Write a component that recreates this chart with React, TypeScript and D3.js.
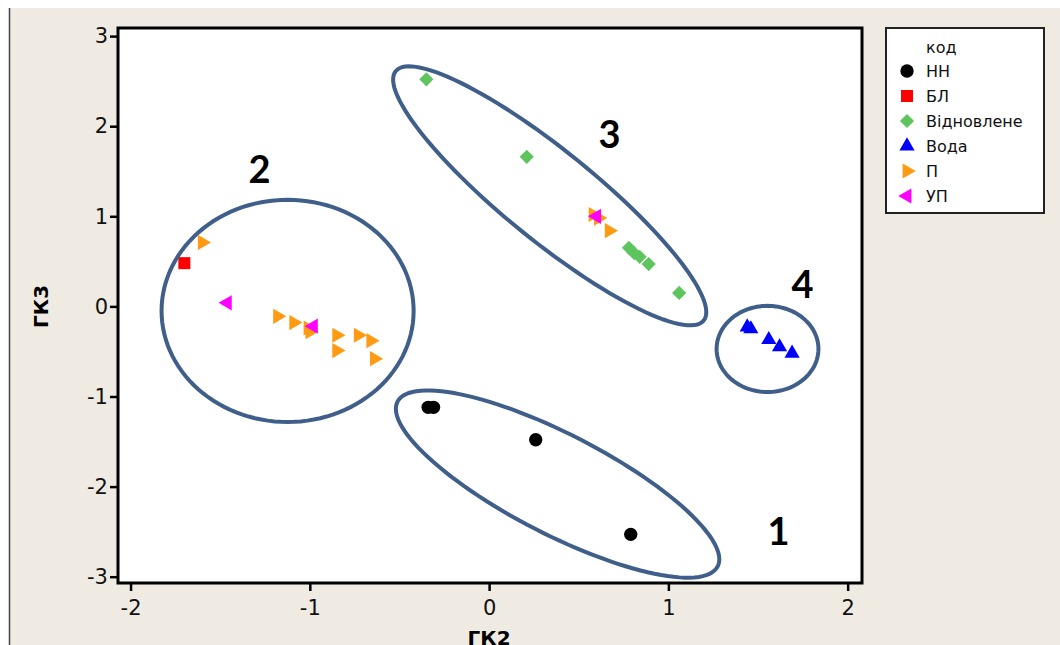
import React, { Component } from "react";
import * as d3 from "d3";

// scores on ГК2 (x) and ГК3 (y), one pair of arrays per group
const nnX = [-0.34, -0.31, 0.26, 0.79];
const nnY = [-1.12, -1.12, -1.48, -2.53];
const blX = [-1.7];
const blY = [0.48];
const vidX = [-0.35, 0.21, 0.78, 0.81, 0.84, 0.89, 1.06];
const vidY = [2.52, 1.66, 0.65, 0.59, 0.55, 0.47, 0.15];
const vodaX = [1.44, 1.46, 1.56, 1.62, 1.69];
const vodaY = [-0.23, -0.25, -0.37, -0.45, -0.52];
const pX = [-1.6, -1.18, -1.09, -1.01, -1.0, -0.85, -0.85, -0.73, -0.66, -0.64, 0.58, 0.61, 0.67];
const pY = [0.71, -0.11, -0.18, -0.24, -0.28, -0.32, -0.49, -0.32, -0.38, -0.58, 1.02, 0.98, 0.84];
const upX = [-1.46, -0.98, 0.6];
const upY = [0.04, -0.22, 1.0];

const groupNames = ["НН", "БЛ", "Відновлене", "Вода", "П", "УП"];
const groupX = [nnX, blX, vidX, vodaX, pX, upX];
const groupY = [nnY, blY, vidY, vodaY, pY, upY];

const xTicks = [-2, -1, 0, 1, 2];
const yTicks = [-3, -2, -1, 0, 1, 2, 3];

// cluster outlines: centre and two semi-axis vectors, in data units
const clusterNames = ["1", "2", "3", "4"];
const clusterC = [[0.382, -1.972], [-1.124, -0.05], [0.338, 1.227], [1.553, -0.472]];
const clusterU = [[0.893, -0.914], [0.703, 0], [0.859, -1.384], [0.284, 0]];
const clusterV = [[-0.128, -0.494], [0, 1.233], [-0.158, -0.389], [0, 0.478]];
const clusterLabelX = [1.615, -1.28, 0.672, 1.748];
const clusterLabelY = [-2.48, 1.54, 1.93, 0.26];

const colors = ["#000000", "#ff0000", "#5ec55e", "#0000ff", "#ff9a12", "#ff00ff"];

function symbolPath(i) {
    if (i === 0) return { d: d3.symbol(d3.symbolCircle, 140)(), rot: 0 };
    if (i === 1) return { d: d3.symbol(d3.symbolSquare, 144)(), rot: 0 };
    if (i === 2) return { d: d3.symbol(d3.symbolSquare, 100)(), rot: 45 };
    if (i === 3) return { d: d3.symbol(d3.symbolTriangle, 100)(), rot: 0 };
    if (i === 4) return { d: d3.symbol(d3.symbolTriangle, 100)(), rot: 90 };
    return { d: d3.symbol(d3.symbolTriangle, 100)(), rot: -90 };
}

class App extends Component {
    constructor(props) {
        super(props);
        this.svgRef = React.createRef();
    }

    componentDidMount() {
        this.draw();
    }

    draw() {
        const W = 1060, H = 645;
        const plot = { left: 118, right: 862, top: 28, bottom: 583 };

        const svg = d3.select(this.svgRef.current);
        svg.selectAll("*").remove();

        // page background
        svg.append("rect").attr("width", W).attr("height", H).attr("fill", "#ffffff");
        svg.append("rect").attr("x", 10).attr("y", 8).attr("width", W - 10).attr("height", H - 8)
            .attr("fill", "#efebe2");
        svg.append("line").attr("x1", 9.5).attr("x2", 9.5).attr("y1", 8).attr("y2", H)
            .attr("stroke", "#444").attr("stroke-width", 1.5);

        const x = d3.scaleLinear().domain([-2.07, 2.08]).range([plot.left, plot.right]);
        const y = d3.scaleLinear().domain([-3.07, 3.09]).range([plot.bottom, plot.top]);

        svg.append("rect")
            .attr("x", plot.left).attr("y", plot.top)
            .attr("width", plot.right - plot.left).attr("height", plot.bottom - plot.top)
            .attr("fill", "#ffffff");

        // Axes
        const xAxis = svg.append("g").attr("transform", `translate(0, ${plot.bottom})`)
            .call(d3.axisBottom(x).tickValues(xTicks).tickSize(8).tickSizeOuter(0).tickPadding(9)
                .tickFormat(d3.format("d")));
        const yAxis = svg.append("g").attr("transform", `translate(${plot.left}, 0)`)
            .call(d3.axisLeft(y).tickValues(yTicks).tickSize(8).tickSizeOuter(0).tickPadding(2)
                .tickFormat(d3.format("d")));
        [xAxis, yAxis].forEach(g => {
            g.select(".domain").remove();
            g.selectAll(".tick line").attr("stroke", "#000").attr("stroke-width", 2.5);
            g.selectAll(".tick text").attr("fill", "#111")
                .style("font-family", "'DejaVu Sans', Verdana, sans-serif").style("font-size", "21px");
        });
        xAxis.selectAll(".tick text").text(d => d < 0 ? "-" + Math.abs(d) : d);
        yAxis.selectAll(".tick text").text(d => d < 0 ? "-" + Math.abs(d) : d);

        // Points
        groupNames.forEach((name, i) => {
            const sym = symbolPath(i);
            svg.append("g").selectAll("path")
                .data(groupX[i].map((v, j) => [v, groupY[i][j]]))
                .join("path")
                .attr("d", sym.d)
                .attr("transform", d => `translate(${x(d[0])}, ${y(d[1])}) rotate(${sym.rot})`)
                .attr("fill", colors[i]);
        });

        // Cluster ellipses
        const line = d3.line().x(d => x(d[0])).y(d => y(d[1])).curve(d3.curveLinearClosed);
        clusterNames.forEach((c, k) => {
            const pts = d3.range(0, 120).map(n => {
                const t = (n / 120) * 2 * Math.PI;
                return [
                    clusterC[k][0] + clusterU[k][0] * Math.cos(t) + clusterV[k][0] * Math.sin(t),
                    clusterC[k][1] + clusterU[k][1] * Math.cos(t) + clusterV[k][1] * Math.sin(t)
                ];
            });
            svg.append("path").attr("d", line(pts))
                .attr("fill", "none").attr("stroke", "#3f5f8a").attr("stroke-width", 4);
            svg.append("text")
                .attr("x", x(clusterLabelX[k])).attr("y", y(clusterLabelY[k]))
                .attr("text-anchor", "middle").attr("dominant-baseline", "central")
                .style("font-family", "Lato, 'Open Sans', sans-serif")
                .style("font-size", "38px").style("font-weight", "bold")
                .text(c);
        });

        // Frame
        svg.append("rect")
            .attr("x", plot.left).attr("y", plot.top)
            .attr("width", plot.right - plot.left).attr("height", plot.bottom - plot.top)
            .attr("fill", "none").attr("stroke", "#000").attr("stroke-width", 3);

        // Axis titles
        svg.append("text")
            .attr("x", x(0)).attr("y", 645)
            .attr("text-anchor", "middle")
            .style("font-family", "'DejaVu Sans', Verdana, sans-serif")
            .style("font-size", "20px").style("font-weight", "bold")
            .text("ГК2");
        svg.append("text")
            .attr("transform", `translate(48, ${y(0)}) rotate(-90)`)
            .attr("text-anchor", "middle")
            .style("font-family", "'DejaVu Sans', Verdana, sans-serif")
            .style("font-size", "20px").style("font-weight", "bold")
            .text("ГК3");

        // Legend
        const legend = svg.append("g");
        legend.append("rect").attr("x", 886).attr("y", 28).attr("width", 158).attr("height", 185)
            .attr("fill", "#ffffff").attr("stroke", "#222").attr("stroke-width", 2);
        legend.append("text").attr("x", 926).attr("y", 53)
            .style("font-family", "'DejaVu Sans', Verdana, sans-serif").style("font-size", "16px")
            .attr("fill", "#111").text("код");
        groupNames.forEach((name, i) => {
            const base = 77 + i * 25;
            const sym = symbolPath(i);
            legend.append("path").attr("d", sym.d)
                .attr("transform", `translate(907, ${base - 6}) rotate(${sym.rot})`)
                .attr("fill", colors[i]);
            legend.append("text").attr("x", 926).attr("y", base)
                .style("font-family", "'DejaVu Sans', Verdana, sans-serif").style("font-size", "16px")
                .attr("fill", "#111").text(name);
        });
    }

    render() {
        return (
            <svg ref={this.svgRef} width={1060} height={645}
                style={{ position: "absolute", left: 0, top: 0, display: "block" }}></svg>
        );
    }
}

export default App;
